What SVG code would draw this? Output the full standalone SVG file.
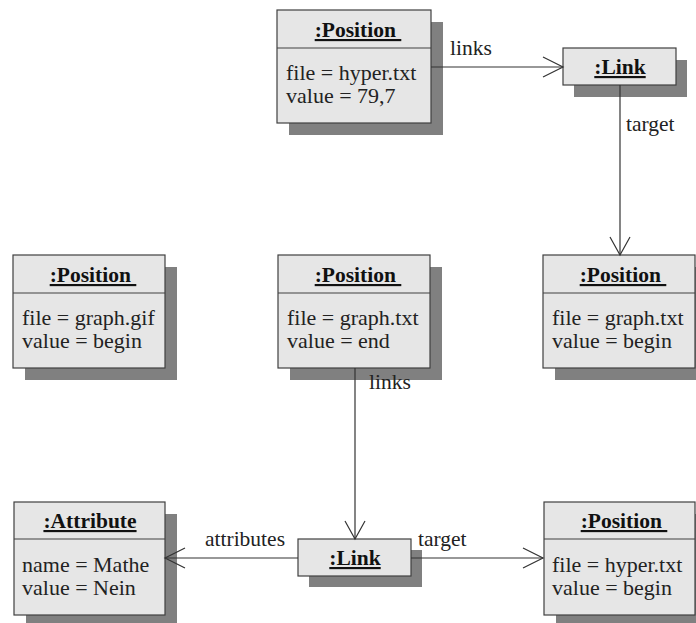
<svg xmlns="http://www.w3.org/2000/svg" width="696" height="623" viewBox="0 0 696 623">
<style>
text{font-family:"Liberation Serif","Times New Roman",serif}
.shadow{fill:#808080;stroke:none}
.box{fill:#e6e6e6;stroke:#404040;stroke-width:1.2}
.div{stroke:#404040;stroke-width:1.2}
.hdr{font-size:21.5px;font-weight:bold;fill:#111;text-anchor:middle;text-decoration:underline}
.att{font-size:22px;fill:#222}
.lbl{font-size:21.5px;fill:#222}
.conn{stroke:#333;stroke-width:1.2;fill:none}
</style>
<rect width="696" height="623" fill="#fff"/>
<g id="pos_top">
<rect class="shadow" x="289" y="22" width="154" height="113"/>
<rect class="box" x="277" y="10" width="154" height="113"/>
<line class="div" x1="277" y1="48" x2="431" y2="48"/>
<text class="hdr" x="358" y="37" xml:space="preserve">:Position </text>
<text class="att" x="286" y="80">file = hyper.txt</text>
<text class="att" x="286" y="103">value = 79,7</text>
</g>
<g id="link_top">
<rect class="shadow" x="574" y="60" width="113" height="37"/>
<rect class="box" x="563" y="48" width="113" height="37"/>
<text class="hdr" x="620" y="74">:Link</text>
</g>
<g id="pos_left">
<rect class="shadow" x="25" y="267" width="152" height="113"/>
<rect class="box" x="13" y="255" width="152" height="113"/>
<line class="div" x1="13" y1="293" x2="165" y2="293"/>
<text class="hdr" x="93" y="282" xml:space="preserve">:Position </text>
<text class="att" x="22" y="325">file = graph.gif</text>
<text class="att" x="22" y="348">value = begin</text>
</g>
<g id="pos_mid">
<rect class="shadow" x="290" y="267" width="152" height="113"/>
<rect class="box" x="278" y="255" width="152" height="113"/>
<line class="div" x1="278" y1="293" x2="430" y2="293"/>
<text class="hdr" x="358" y="282" xml:space="preserve">:Position </text>
<text class="att" x="287" y="325">file = graph.txt</text>
<text class="att" x="287" y="348">value = end</text>
</g>
<g id="pos_right">
<rect class="shadow" x="555" y="267" width="152" height="113"/>
<rect class="box" x="543" y="255" width="152" height="113"/>
<line class="div" x1="543" y1="293" x2="695" y2="293"/>
<text class="hdr" x="623" y="282" xml:space="preserve">:Position </text>
<text class="att" x="552" y="325">file = graph.txt</text>
<text class="att" x="552" y="348">value = begin</text>
</g>
<g id="attribute">
<rect class="shadow" x="26" y="514" width="151" height="113"/>
<rect class="box" x="14" y="502" width="151" height="113"/>
<line class="div" x1="14" y1="539" x2="165" y2="539"/>
<text class="hdr" x="90" y="528">:Attribute</text>
<text class="att" x="22" y="572">name = Mathe</text>
<text class="att" x="22" y="595">value = Nein</text>
</g>
<g id="link_bottom">
<rect class="shadow" x="309" y="550" width="113" height="37"/>
<rect class="box" x="298" y="539" width="113" height="37"/>
<text class="hdr" x="355" y="565">:Link</text>
</g>
<g id="pos_bottom_right">
<rect class="shadow" x="556" y="514" width="151" height="113"/>
<rect class="box" x="544" y="502" width="151" height="113"/>
<line class="div" x1="544" y1="539" x2="695" y2="539"/>
<text class="hdr" x="624" y="528" xml:space="preserve">:Position </text>
<text class="att" x="552" y="572">file = hyper.txt</text>
<text class="att" x="552" y="595">value = begin</text>
</g>
<g id="connectors">
<line class="conn" x1="431" y1="67" x2="563" y2="67"/>
<polyline class="conn" points="543,57 563,67 543,77"/>
<text class="lbl" x="450" y="55">links</text>
<line class="conn" x1="620" y1="85" x2="620" y2="255"/>
<polyline class="conn" points="610,237 620,255 630,237"/>
<text class="lbl" x="626" y="131">target</text>
<line class="conn" x1="355" y1="368" x2="355" y2="539"/>
<polyline class="conn" points="345,521 355,539 365,521"/>
<text class="lbl" x="369" y="389">links</text>
<line class="conn" x1="298" y1="558" x2="165" y2="558"/>
<polyline class="conn" points="185,548 165,558 185,568"/>
<text class="lbl" x="205" y="546">attributes</text>
<line class="conn" x1="411" y1="558" x2="543" y2="558"/>
<polyline class="conn" points="523,548 543,558 523,568"/>
<text class="lbl" x="418" y="546">target</text>
</g>
</svg>
